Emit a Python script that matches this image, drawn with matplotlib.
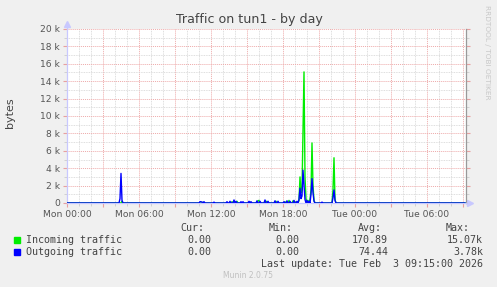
import numpy as np
import matplotlib
matplotlib.use("Agg")
import matplotlib.pyplot as plt
from matplotlib.ticker import MultipleLocator

## chart data (hours after Mon 00:00, bytes), everything else is 0
in_hours = [4.58, 11.33, 13.75, 14.17, 15.25, 15.92, 16.0, 16.58, 16.67, 17.42,
            18.17, 18.5, 18.83, 19.08, 19.33, 19.42, 19.5, 19.58, 19.67, 19.75,
            19.83, 19.92, 20.08, 20.25, 20.33, 20.42, 20.5, 20.58, 22.17, 22.25,
            22.33]
in_vals = [200, 100, 150, 200, 100, 250, 300, 200, 150, 200,
           150, 300, 250, 150, 300, 3000, 1200, 1500, 8000, 15070,
           3000, 500, 300, 400, 1500, 6900, 2000, 300, 1500, 5200,
           400]

out_hours = [4.42, 4.5, 4.58, 11.08, 11.17, 11.25, 11.42, 12.25, 13.33, 13.58,
             13.92, 14.08, 14.5, 14.67, 15.17, 15.33, 15.83, 16.08, 16.5, 16.75,
             17.33, 17.58, 18.08, 18.33, 18.58, 18.92, 19.17, 19.33, 19.42, 19.5,
             19.58, 19.67, 19.75, 19.83, 20.0, 20.17, 20.33, 20.42, 20.5, 20.58,
             21.25, 22.17, 22.25, 22.33]
out_vals = [500, 3400, 300, 150, 150, 100, 150, 100, 150, 200,
            350, 200, 150, 150, 200, 150, 250, 200, 350, 200,
            250, 200, 150, 250, 200, 300, 200, 400, 1700, 500,
            800, 3780, 2000, 400, 300, 200, 1000, 2800, 1200, 200,
            100, 600, 1500, 300]

xtick_hours = [0, 6, 12, 18, 24, 30]
xtick_labels = ["Mon 00:00", "Mon 06:00", "Mon 12:00", "Mon 18:00", "Tue 00:00", "Tue 06:00"]
ytick_vals = [0, 2000, 4000, 6000, 8000, 10000, 12000, 14000, 16000, 18000, 20000]
ytick_labels = ["0", "2 k", "4 k", "6 k", "8 k", "10 k", "12 k", "14 k", "16 k", "18 k", "20 k"]

legend_names = ["Incoming traffic", "Outgoing traffic"]
legend_cur = ["0.00", "0.00"]
legend_min = ["0.00", "0.00"]
legend_avg = ["170.89", "74.44"]
legend_max = ["15.07k", "3.78k"]
colors = ["#00ee00", "#0000ff"]

# 5 minute samples over the day window
t = np.arange(0, 33.25, 5 / 60)
s_in = np.zeros_like(t)
s_out = np.zeros_like(t)
for h, v in zip(in_hours, in_vals):
    s_in[int(round(h * 12))] = v
for h, v in zip(out_hours, out_vals):
    s_out[int(round(h * 12))] = v

W, H = 497, 287
fig = plt.figure(figsize=(W / 100, H / 100), dpi=100, facecolor="#f0f0f0")
ax = fig.add_axes([67 / W, 1 - 203 / H, 399 / W, 174 / H], facecolor="white")

def fx(x):
    return x / W

def fy(y):
    return 1 - y / H

ax.set_xlim(0, 33.25)
ax.set_ylim(0, 20000)

# grid
ax.xaxis.set_minor_locator(MultipleLocator(1))
ax.yaxis.set_minor_locator(MultipleLocator(1000))
ax.set_yticks(ytick_vals)
ax.set_yticklabels(ytick_labels)
ax.grid(which="minor", color="#d4d4d4", linestyle=(0, (1, 1)), lw=0.6)
ax.grid(which="major", color="#eeaaaa", linestyle=(0, (1, 1)), lw=0.7)
ax.set_axisbelow(True)

xl = ["" for _ in range(12)]
for h, lab in zip(xtick_hours, xtick_labels):
    xl[h // 3] = lab
ax.set_xticks(np.arange(0, 34, 3))
ax.set_xticklabels(xl)

ax.tick_params(which="major", length=3, color="#e8a0a0", labelsize=6.6,
               labelcolor="#555555", pad=2, right=True)
ax.tick_params(which="minor", length=2, color="#cccccc", right=True)

ax.plot(t, s_in, color=colors[0], lw=1.0, zorder=3)
ax.plot(t, s_out, color=colors[1], lw=1.0, zorder=4)

ax.spines["top"].set_visible(False)
ax.spines["left"].set_color("#c8c8ff")
ax.spines["bottom"].set_color("#c8c8ff")
ax.spines["right"].set_color("#999999")
for sp in ax.spines.values():
    sp.set_linewidth(0.9)

# axis arrows
ax.plot([0, 0], [1, 1.03], color="#c8c8ff", lw=0.9, transform=ax.transAxes, clip_on=False)
ax.plot(0, 1.03, marker="^", color="#c8c8ff", ms=4, transform=ax.transAxes, clip_on=False)
ax.plot([1, 1.01], [0, 0], color="#c8c8ff", lw=0.9, transform=ax.transAxes, clip_on=False)
ax.plot(1.01, 0, marker=">", color="#c8c8ff", ms=4, transform=ax.transAxes, clip_on=False)

fig.text(fx(249), fy(19), "Traffic on tun1 - by day", ha="center", va="center",
         fontsize=9.1, color="#444444")
fig.text(fx(10), fy(113), "bytes", ha="center", va="center", rotation=90,
         fontsize=8, color="#444444")
fig.text(fx(487), fy(52), "RRDTOOL / TOBI OETIKER", ha="center", va="center",
         rotation=270, fontsize=5.3, color="#c8c8c8")

# legend table
mono = dict(family="DejaVu Sans Mono", fontsize=7.2, color="#444444", va="center")
for x, txt in [(204, "Cur:"), (293, "Min:"), (382, "Avg:"), (470, "Max:")]:
    fig.text(fx(x), fy(228), txt, ha="right", **mono)
for i in range(2):
    y = 240 + 12.3 * i
    fig.patches.append(plt.Rectangle((fx(14), fy(y + 3)), 6 / W, 6 / H, color=colors[i],
                                     transform=fig.transFigure, figure=fig))
    fig.text(fx(26), fy(y), legend_names[i], ha="left", **mono)
    fig.text(fx(211), fy(y), legend_cur[i], ha="right", **mono)
    fig.text(fx(299), fy(y), legend_min[i], ha="right", **mono)
    fig.text(fx(388), fy(y), legend_avg[i], ha="right", **mono)
    fig.text(fx(483), fy(y), legend_max[i], ha="right", **mono)
fig.text(fx(483), fy(264), "Last update: Tue Feb  3 09:15:00 2026", ha="right", **mono)
fig.text(fx(248), fy(276), "Munin 2.0.75", ha="center", va="center", fontsize=5.5,
         color="#c0c0c0")

fig.savefig("out.png", dpi=100, facecolor=fig.get_facecolor())
